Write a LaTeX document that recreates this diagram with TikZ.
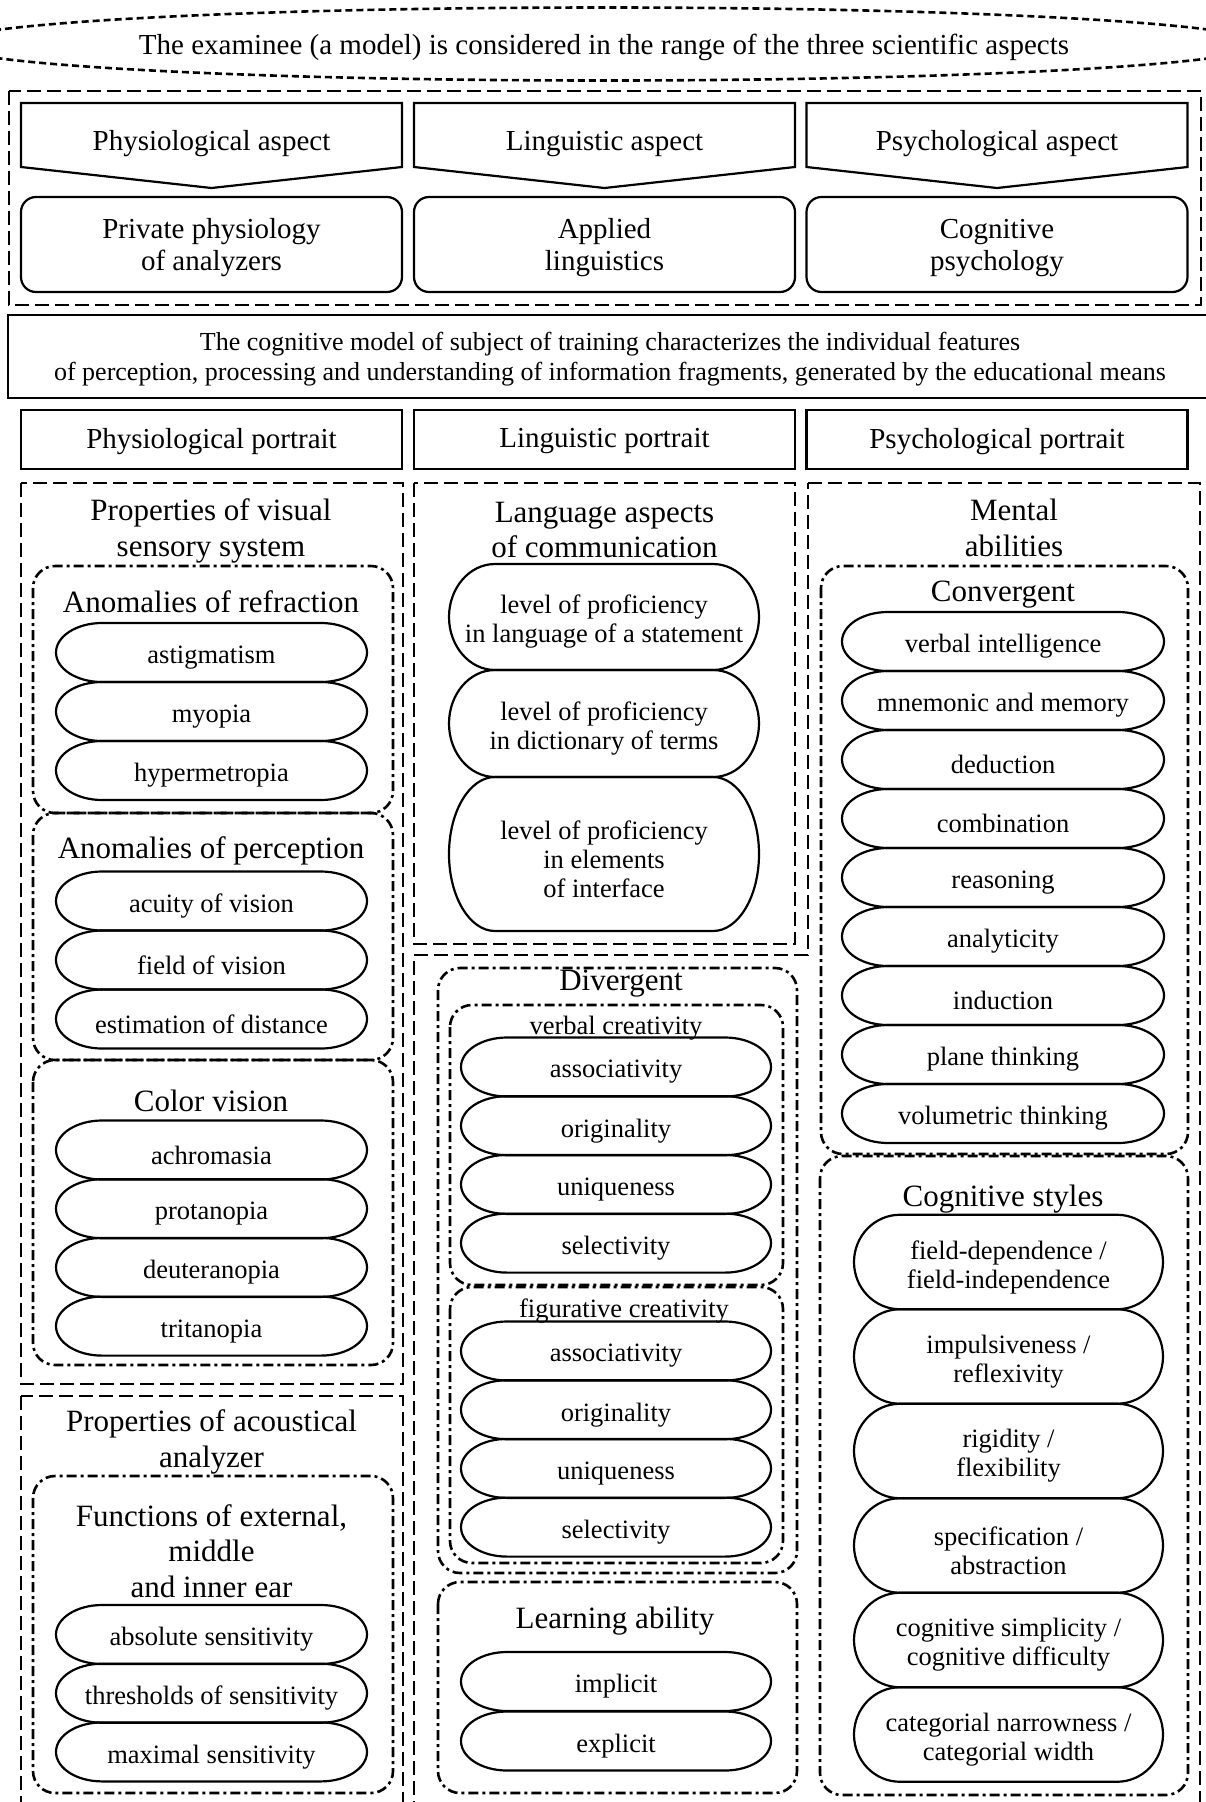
\documentclass[tikz,border=0pt]{standalone}
\usepackage{fontspec}
\setmainfont{Liberation Serif}
\usetikzlibrary{shapes.geometric}

\newcommand\headfont{\fontsize{31}{35.5}\selectfont}
\newcommand\itemfont{\fontsize{26.5}{29}\selectfont}
\newcommand\topfont{\fontsize{29}{32}\selectfont}
\newcommand\notefont{\fontsize{26}{30}\selectfont}

% name, centre, width, height, text (text sits 5pt low, the outline does not)
\newcommand\drawPill[5]{
    \node[pill, minimum width=#3, minimum height=#4] (#1) at #2 {#5};
    \draw[pill line] ([xshift=46pt,yshift=5pt]#1.north west) -- ([xshift=-46pt,yshift=5pt]#1.north east)
        arc[start angle=90, end angle=-90, x radius=46pt, y radius=#4/2]
        -- ([xshift=46pt,yshift=5pt]#1.south west)
        arc[start angle=270, end angle=90, x radius=46pt, y radius=#4/2] -- cycle;
}

\begin{document}
\begin{tikzpicture}[x=1pt, y=-1pt,
    outer box/.style={line width=2.8pt, dash pattern=on 14pt off 6pt},
    group box/.style={line width=2.6pt, dash pattern=on 10pt off 4pt on 3pt off 4pt, rounded corners=22pt},
    pill/.style={inner sep=0pt, outer sep=0pt, align=center, font=\itemfont, yshift=-5pt},
    pill line/.style={line width=2.2pt},
    head/.style={inner sep=0pt, align=center, font=\headfont},
    examinee/.style={ellipse, draw, line width=2.6pt, dash pattern=on 7pt off 4pt, minimum width=1192pt, minimum height=73pt, inner sep=0pt, text depth=0pt, font=\topfont},
    science/.style={draw, line width=2.2pt, rounded corners=15pt, minimum width=381pt, minimum height=95pt, inner sep=0pt, text depth=0pt, align=center, font=\topfont},
    portrait/.style={draw, line width=2.2pt, minimum width=381pt, minimum height=59pt, inner sep=0pt, text depth=3pt, font=\topfont},
    model/.style={draw, line width=2.2pt, minimum width=1204pt, minimum height=83pt, inner sep=0pt, text depth=0pt, align=center, font=\notefont}]
    \useasboundingbox (0,0) rectangle (1206,1802);

    \node[examinee] (exam) at (604,44) {The examinee (a model) is considered in the range of the three scientific aspects};
    \draw[outer box] (9,91) rectangle (1201,305);
    \foreach \name/\cx/\txt/\sci/\por in {phys/211.5/Physiological aspect/{Private physiology\\of analyzers}/Physiological portrait,
                                        ling/604.5/Linguistic aspect/{Applied\\linguistics}/Linguistic portrait,
                                        psych/997/Psychological aspect/{Cognitive\\psychology}/Psychological portrait}
    {
        \draw[line width=2.2pt] ({\cx-190.5},103) -- ({\cx+190.5},103) -- ({\cx+190.5},167) -- (\cx,188) -- ({\cx-190.5},167) -- cycle;
        \node[inner sep=0pt, font=\topfont] (asp\name) at (\cx,144) {\txt};
        \node[science] (sci\name) at (\cx,244.5) {\sci};
        \node[portrait] (por\name) at (\cx,439.5) {\por};
    }
    \node[model] (model) at (610,356.5) {The cognitive model of subject of training characterizes the individual features\\of perception, processing and understanding of information fragments, generated by the educational means};

    % physiological column
    \draw[outer box] (21,483) rectangle (403,1384);
    \node[head] (visual) at (211,531) {Properties of visual\\sensory system};
    \draw[group box] (33,566) rectangle (393,813);
    \node[head] (refraction) at (211,602) {Anomalies of refraction};
    \foreach \name/\txt [count=\k from 0] in {astig/astigmatism, myopia/myopia, hyper/hypermetropia}
        {\drawPill{\name}{(211.5,{652.5+59*\k})}{311pt}{59pt}{\txt}}
    \draw[group box] (33,813) rectangle (393,1060);
    \node[head] (perception) at (211,851) {Anomalies of perception};
    \foreach \name/\txt [count=\k from 0] in {acuity/acuity of vision, field/field of vision, distance/estimation of distance}
        {\drawPill{\name}{(211.5,{901+59*\k})}{311pt}{59pt}{\txt}}
    \draw[group box] (33,1060) rectangle (393,1365);
    \node[head] (color) at (211,1101) {Color vision};
    \foreach \name/\txt [count=\k from 0] in {achrom/achromasia, prot/protanopia, deut/deuteranopia, trit/tritanopia}
        {\drawPill{\name}{(211.5,{1150+58.7*\k})}{311pt}{59pt}{\txt}}

    \draw[outer box] (21,1396) rectangle (403,1830);
    \node[head] (acoustic) at (211.5,1442) {Properties of acoustical\\analyzer};
    \draw[group box] (33,1476) rectangle (393,1793);
    \node[head] (ear) at (211.5,1551) {Functions of external,\\middle\\and inner ear};
    \foreach \name/\txt [count=\k from 0] in {abssens/absolute sensitivity, thresh/thresholds of sensitivity, maxsens/maximal sensitivity}
        {\drawPill{\name}{(211.5,{1634.5+58.7*\k})}{311pt}{59pt}{\txt}}

    % linguistic column
    \draw[outer box] (414,483) rectangle (795,944);
    \node[head] (language) at (604.5,530) {Language aspects\\of communication};
    \drawPill{statement}{(604,617)}{310pt}{106pt}{level of proficiency\\in language of a statement}
    \drawPill{terms}{(604,723.5)}{310pt}{107pt}{level of proficiency\\in dictionary of terms}
    \drawPill{interface}{(604,854)}{310pt}{154pt}{level of proficiency\\in elements\\of interface}

    % psychological column
    \draw[outer box] (808,483) -- (1200,483) -- (1200,1830) -- (414,1830) -- (414,955) -- (808,955) -- cycle;
    \node[head] (mental) at (1014,528) {Mental\\abilities};
    \draw[group box] (821,566) rectangle (1188,1154);
    \node[head] (convergent) at (1003,595) {Convergent};
    \foreach \name/\txt [count=\k from 0] in {verbint/verbal intelligence, mnemo/mnemonic and memory, deduct/deduction,
                                            combin/combination, reason/reasoning, analyt/analyticity, induct/induction,
                                            plane/plane thinking, volume/volumetric thinking}
        {\drawPill{\name}{(1003,{641.5+59*\k})}{322pt}{59pt}{\txt}}

    \draw[group box] (438,968) rectangle (797,1573);
    \node[head] (divergent) at (621,984) {Divergent};
    \draw[group box] (450,1005) rectangle (783,1285);
    \node[pill, yshift=5pt] (verbal) at (616,1028) {verbal creativity};
    \foreach \name/\txt [count=\k from 0] in {vassoc/associativity, vorig/originality, vuniq/uniqueness, vsel/selectivity}
        {\drawPill{\name}{(616,{1067+58.7*\k})}{310pt}{59pt}{\txt}}
    \draw[group box] (450,1287) rectangle (783,1563);
    \node[pill, yshift=5pt] (figurative) at (624,1311) {figurative creativity};
    \foreach \name/\txt [count=\k from 0] in {fassoc/associativity, forig/originality, funiq/uniqueness, fsel/selectivity}
        {\drawPill{\name}{(616,{1351+58.7*\k})}{310pt}{59pt}{\txt}}
    \draw[group box] (438,1582) rectangle (797,1793);
    \node[head] (learning) at (615,1621) {Learning ability};
    \drawPill{implicit}{(616,1681.5)}{310pt}{59pt}{implicit}
    \drawPill{explicit}{(616,1741)}{310pt}{59pt}{explicit}

    \draw[group box] (820,1156) rectangle (1188,1795);
    \node[head] (styles) at (1003,1199) {Cognitive styles};
    \foreach \name/\txt [count=\k from 0] in {fielddep/{field-dependence /\\field-independence},
                                            impuls/{impulsiveness /\\reflexivity},
                                            rigid/{rigidity /\\flexibility},
                                            specif/{specification /\\abstraction},
                                            simpl/{cognitive simplicity /\\cognitive difficulty},
                                            categ/{categorial narrowness /\\categorial width}}
        {\drawPill{\name}{(1008.5,{1262+94.5*\k})}{309pt}{94.5pt}{\fontsize{26.5}{27}\selectfont\txt}}
\end{tikzpicture}
\end{document}
